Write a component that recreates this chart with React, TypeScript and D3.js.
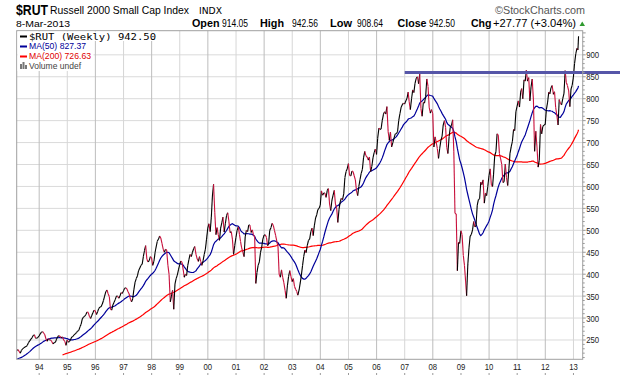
import React from "react";
import * as d3 from "d3";

const W = 620;
const H = 376;
const plot = { left: 16.7, right: 582.7, top: 30.7, bottom: 359.3 };

// Semi-monthly closes (mid-month, month-end)
const rut1991 = [135, 144, 155, 160, 168, 171, 175, 172, 174, 177, 176, 168, 172, 176, 180, 182, 183, 181, 184, 186, 185, 177, 178, 190];
const rut1992 = [203, 206, 210, 211, 207, 204, 200, 198, 201, 200, 196, 191, 195, 197, 193, 191, 196, 196, 196, 202, 208, 214, 216, 221];
const rut1993 = [227, 228, 226, 222, 226, 228, 224, 220, 226, 230, 232, 234, 235, 238, 244, 248, 252, 255, 260, 262, 254, 254, 256, 259];
const rut1994 = [264, 268, 269, 266, 262, 252, 247, 253, 250, 250, 246, 241, 244, 245, 252, 258, 260, 258, 255, 257, 250, 247, 238, 250];
const rut1995 = [245, 247, 252, 257, 258, 262, 264, 267, 270, 272, 280, 286, 298, 302, 304, 308, 314, 313, 304, 299, 306, 312, 318, 316];
const rut1996 = [308, 315, 322, 325, 326, 332, 340, 350, 360, 364, 355, 349, 320, 318, 330, 336, 342, 350, 350, 345, 350, 358, 356, 362];
const rut1997 = [368, 369, 366, 360, 355, 343, 337, 344, 365, 382, 390, 396, 408, 414, 420, 423, 440, 454, 465, 434, 428, 431, 440, 437];
const rut1998 = [420, 430, 450, 462, 475, 480, 487, 482, 470, 457, 450, 457, 455, 420, 400, 337, 350, 363, 320, 378, 390, 398, 410, 422];
const rut1999 = [430, 427, 410, 393, 400, 397, 420, 433, 445, 440, 450, 458, 463, 445, 435, 429, 440, 429, 420, 431, 445, 457, 480, 505];
const rut2000 = [515, 497, 530, 578, 605, 540, 490, 506, 490, 477, 505, 517, 530, 496, 515, 534, 540, 521, 495, 497, 480, 445, 465, 484];
const rut2001 = [500, 508, 490, 475, 460, 450, 440, 485, 500, 497, 512, 512, 495, 501, 490, 485, 379, 404, 420, 428, 450, 461, 480, 489];
const rut2002 = [490, 484, 465, 470, 500, 506, 516, 511, 500, 488, 475, 463, 400, 393, 410, 392, 380, 363, 345, 375, 395, 408, 395, 383];
const rut2003 = [390, 372, 365, 361, 352, 364, 380, 398, 420, 441, 455, 449, 465, 477, 480, 497, 505, 488, 510, 528, 535, 547, 550, 557];
const rut2004 = [590, 580, 585, 585, 575, 591, 595, 560, 545, 569, 580, 591, 560, 551, 518, 548, 565, 573, 570, 583, 620, 634, 640, 652];
const rut2005 = [625, 624, 635, 634, 625, 615, 590, 579, 600, 616, 630, 639, 665, 680, 670, 667, 660, 667, 634, 646, 665, 677, 685, 673];
const rut2006 = [710, 733, 730, 731, 750, 765, 770, 765, 782, 725, 705, 724, 690, 700, 710, 720, 720, 725, 750, 766, 780, 786, 790, 788];
const rut2007 = [795, 801, 815, 793, 775, 800, 820, 814, 835, 847, 850, 834, 856, 777, 760, 792, 790, 805, 845, 828, 780, 767, 775, 766];
const rut2008 = [690, 713, 700, 686, 664, 687, 705, 714, 740, 750, 735, 689, 675, 714, 735, 740, 752, 679, 539, 537, 408, 473, 470, 499];
const rut2009 = [490, 443, 420, 389, 351, 423, 460, 487, 490, 501, 520, 508, 510, 557, 570, 572, 610, 604, 615, 562, 585, 579, 600, 625];
const rut2010 = [640, 602, 600, 628, 670, 679, 720, 717, 675, 663, 650, 609, 611, 651, 620, 602, 640, 676, 690, 703, 730, 727, 770, 783];
const rut2011 = [795, 781, 815, 823, 800, 843, 840, 865, 840, 848, 795, 827, 845, 797, 680, 726, 690, 644, 660, 741, 720, 737, 740, 741];
const rut2012 = [775, 792, 815, 811, 825, 830, 810, 816, 780, 761, 740, 798, 790, 786, 800, 812, 864, 837, 830, 818, 782, 822, 830, 849];
const rut2013 = [880, 902, 915, 911, 942.5];

const dataYears = [1991, 1992, 1993, 1994, 1995, 1996, 1997, 1998, 1999, 2000, 2001, 2002, 2003, 2004, 2005, 2006, 2007, 2008, 2009, 2010, 2011, 2012, 2013];
const dataByYear = [rut1991, rut1992, rut1993, rut1994, rut1995, rut1996, rut1997, rut1998, rut1999, rut2000, rut2001, rut2002, rut2003, rut2004, rut2005, rut2006, rut2007, rut2008, rut2009, rut2010, rut2011, rut2012, rut2013];
const lastDate = new Date(2013, 2, 8);

const yTickValues = [250, 300, 350, 400, 450, 500, 550, 600, 650, 700, 750, 800, 850, 900];
const xYearLabels = ["94", "95", "96", "97", "98", "99", "00", "01", "02", "03", "04", "05", "06", "07", "08", "09", "10", "11", "12", "13"];
const resistanceLevel = 860;
const resistanceStart = new Date(2007, 0, 1);

const SANS = '"Liberation Sans",Arial,sans-serif';

type Pt = { date: Date; value: number };

function buildSeries(): Pt[] {
  const out: Pt[] = [];
  dataByYear.forEach((arr, yi) => {
    const Y = dataYears[yi];
    arr.forEach((v, k) => {
      const m = Math.floor(k / 2);
      let date = k % 2 === 0 ? new Date(Y, m, 15) : new Date(Y, m + 1, 0);
      if (Y === 2013 && k === arr.length - 1) date = lastDate;
      out.push({ date, value: v });
    });
  });
  return out;
}

function sma(series: Pt[], n: number): (Pt | null)[] {
  return series.map((d, i) => {
    if (i < n - 1) return null;
    const m = d3.mean(series.slice(i - n + 1, i + 1), (p) => p.value) as number;
    return { date: d.date, value: m };
  });
}

// Narrow-looking text: Arial metrics squeezed to the measured width
function NText(props: { x: number; y: number; w: number; size: number; fill?: string; bold?: boolean; anchor?: string; children: string }) {
  return (
    <text
      x={props.x}
      y={props.y}
      fontFamily={SANS}
      fontSize={props.size}
      fontWeight={props.bold ? "bold" : "normal"}
      fill={props.fill || "#000"}
      textAnchor={props.anchor || "start"}
      textLength={props.w}
      lengthAdjust="spacingAndGlyphs"
    >
      {props.children}
    </text>
  );
}

export default function App() {
  const x = d3.scaleTime().domain([new Date(1993, 2, 15), new Date(2013, 4, 1)]).range([plot.left, plot.right]);
  const y = d3.scaleLinear().domain([206, 955]).range([plot.bottom, plot.top]);

  const series = buildSeries();
  const ma50 = sma(series, 23);
  const ma200 = sma(series, 92);

  const line = d3
    .line<Pt | null>()
    .defined((d) => d != null)
    .x((d) => x((d as Pt).date))
    .y((d) => y((d as Pt).value));

  const segs: { x1: number; y1: number; x2: number; y2: number; up: boolean }[] = [];
  for (let i = 1; i < series.length; i++) {
    const a = series[i - 1];
    const b = series[i];
    if (b.date < x.domain()[0]) continue;
    segs.push({ x1: x(a.date), y1: y(a.value), x2: x(b.date), y2: y(b.value), up: b.value >= a.value });
  }

  const yearDates = xYearLabels.map((_, i) => new Date(1994 + i, 0, 1));
  const minorTicks = d3.range(210, 951, 10);

  return (
    <svg width={W} height={H} style={{ position: "absolute", left: 0, top: 0, background: "#fff" }}>
      <defs>
        <clipPath id="plotClip">
          <rect x={plot.left} y={plot.top} width={plot.right - plot.left} height={plot.bottom - plot.top} />
        </clipPath>
      </defs>
      <rect x={0} y={0} width={W} height={H} fill="#fff" />

      {/* horizontal grid */}
      {yTickValues.map((v) => (
        <line key={"hg" + v} x1={plot.left} x2={plot.right} y1={y(v)} y2={y(v)} stroke="#dadada" strokeWidth={1} />
      ))}
      {/* vertical grid */}
      {yearDates.map((d, i) => (
        <line
          key={"vg" + i}
          x1={x(d)}
          x2={x(d)}
          y1={plot.top}
          y2={plot.bottom}
          stroke={(1994 + i) % 2 === 0 ? "#bdbdbd" : "#d6d6d6"}
          strokeWidth={1}
        />
      ))}

      <g clipPath="url(#plotClip)">
        <path d={line(ma200) || ""} fill="none" stroke="#ff0000" strokeWidth={1.2} />
        <path d={line(ma50) || ""} fill="none" stroke="#00009a" strokeWidth={1.2} />
        {segs.map((s, i) => (
          <line key={"s" + i} x1={s.x1} y1={s.y1} x2={s.x2} y2={s.y2} stroke={s.up ? "#000000" : "#c8103c"} strokeWidth={1.1} />
        ))}
      </g>

      {/* resistance line */}
      <line x1={x(resistanceStart)} x2={W} y1={y(resistanceLevel)} y2={y(resistanceLevel)} stroke="#5656a8" strokeWidth={3} />

      {/* border */}
      <rect x={plot.left} y={plot.top} width={plot.right - plot.left} height={plot.bottom - plot.top} fill="none" stroke="#a0a0a0" strokeWidth={1} />

      {/* right axis ticks */}
      {minorTicks.map((v) => (
        <line key={"mt" + v} x1={plot.right} x2={plot.right + (v % 50 === 0 ? 3 : 2)} y1={y(v)} y2={y(v)} stroke="#999" strokeWidth={1} />
      ))}
      {yTickValues.map((v) => (
        <NText key={"yl" + v} x={plot.right + 3.5} y={y(v) + 3.5} w={13} size={9.5} fill="#222">
          {String(v)}
        </NText>
      ))}

      {/* x axis labels */}
      {yearDates.map((d, i) => (
        <g key={"xl" + i}>
          <NText x={x(d)} y={370} w={8.6} size={9.5} anchor="middle" fill="#222">
            {xYearLabels[i]}
          </NText>
          <line x1={x(d)} x2={x(d)} y1={373} y2={375} stroke="#999" />
        </g>
      ))}

      {/* legend */}
      <rect x={17.5} y={31.5} width={141} height={9.5} fill="#fff" />
      <rect x={17.5} y={41} width={70} height={10} fill="#fff" />
      <rect x={17.5} y={51} width={76} height={10} fill="#fff" />
      <rect x={17.5} y={61} width={64} height={10} fill="#fff" />
      <rect x={20} y={35.5} width={7} height={2} fill="#000" />
      <text x={29} y={39.5} fontFamily='"DejaVu Sans Mono",monospace' fontSize={9.4} fill="#000" textLength={127} lengthAdjust="spacingAndGlyphs">
        $RUT (Weekly) 942.50
      </text>
      <rect x={20} y={45.5} width={7} height={2} fill="#00009a" />
      <NText x={29} y={49.3} w={57} size={9} fill="#00009a">
        MA(50) 827.37
      </NText>
      <rect x={20} y={55.5} width={7} height={2} fill="#ff0000" />
      <NText x={29} y={59.3} w={62} size={9} fill="#e00000">
        MA(200) 726.63
      </NText>
      <rect x={20} y={64} width={2} height={5} fill="#777" />
      <rect x={22.5} y={62} width={2} height={7} fill="#777" />
      <rect x={25} y={65} width={2} height={4} fill="#777" />
      <NText x={29} y={69.3} w={52} size={9} fill="#444">
        Volume undef
      </NText>

      {/* header */}
      <NText x={16} y={14.5} w={32} size={14} bold>
        $RUT
      </NText>
      <NText x={50} y={14} w={139} size={10.2}>
        Russell 2000 Small Cap Index
      </NText>
      <text x={199} y={14} fontFamily='"DejaVu Sans",sans-serif' fontSize={8.2} fill="#000" textLength={23} lengthAdjust="spacingAndGlyphs">
        INDX
      </text>
      <NText x={585} y={14} w={90} size={10.5} anchor="end" fill="#555">
        ©StockCharts.com
      </NText>
      <NText x={16} y={27} w={54} size={9.5}>
        8-Mar-2013
      </NText>
      <NText x={192} y={27} w={27.5} size={10.5} bold>Open</NText>
      <NText x={222} y={27} w={26} size={10}>914.05</NText>
      <NText x={260} y={27} w={24} size={10.5} bold>High</NText>
      <NText x={292} y={27} w={26} size={10}>942.56</NText>
      <NText x={330} y={27} w={22} size={10.5} bold>Low</NText>
      <NText x={357} y={27} w={26} size={10}>908.64</NText>
      <NText x={397.5} y={27} w={29} size={10.5} bold>Close</NText>
      <NText x={429} y={27} w={26} size={10}>942.50</NText>
      <NText x={471} y={27} w={20.5} size={10.5} bold>Chg</NText>
      <NText x={493} y={27} w={83} size={10}>+27.77 (+3.04%)</NText>
      <path d="M579.5,26 L585,26 L582.25,21.5 Z" fill="#2e9a2e" />
    </svg>
  );
}
